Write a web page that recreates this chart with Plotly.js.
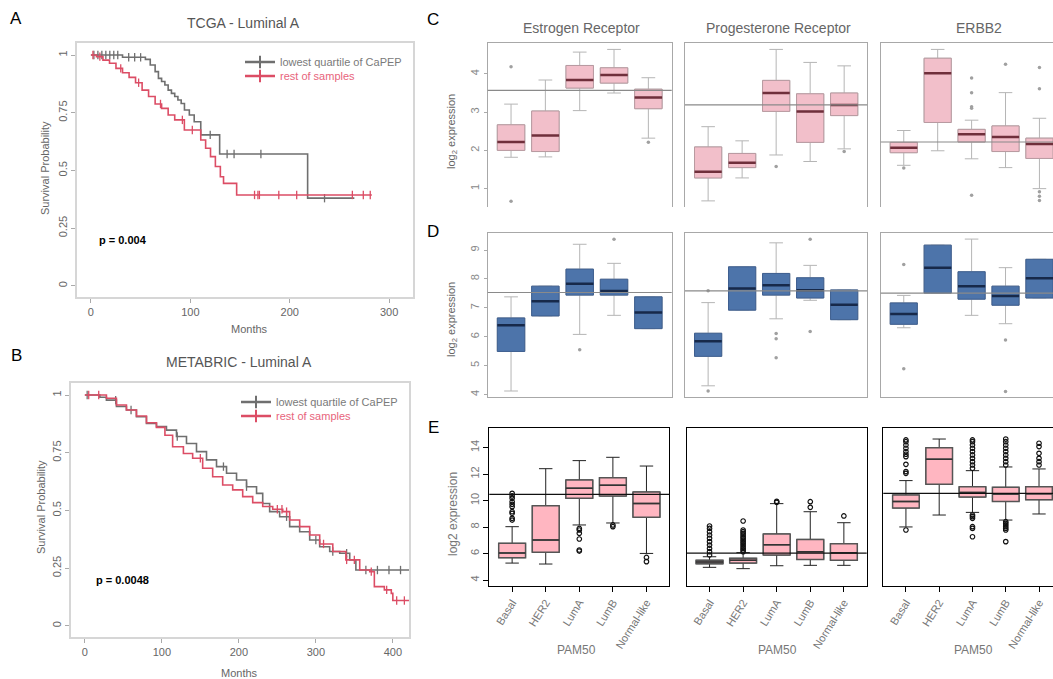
<!DOCTYPE html>
<html><head><meta charset="utf-8">
<script src="https://cdn.plot.ly/plotly-3.0.1.min.js"></script>
<style>html,body{margin:0;padding:0;background:#fff}#chart{width:1053px;height:679px}</style>
</head><body><div id="chart"></div>
<script>
// ---------------- DATA ----------------
// Panel A: TCGA - Luminal A (Kaplan-Meier, months / survival probability)
const tcgaLowT = [0, 31.8, 54.8, 59.7, 64.6, 67.9, 71.1, 74.4, 77.7, 81, 84.3, 87.5, 90.8, 94.1, 99, 103.9, 110.5, 129.5, 218, 265];
const tcgaLowS = [1, 0.99, 0.981, 0.957, 0.928, 0.899, 0.885, 0.87, 0.848, 0.834, 0.82, 0.805, 0.79, 0.762, 0.74, 0.711, 0.654, 0.571, 0.38, 0.38];
const tcgaLowCens = [3, 7, 11, 15, 19, 23, 27, 38, 44, 50, 120, 137, 144, 171, 235];
const tcgaRestT = [0, 5.6, 12.1, 18.7, 25.2, 31.8, 38.4, 44.9, 51.5, 58, 64.6, 71.1, 77.7, 84.3, 94, 110.5, 115.4, 120.3, 125.2, 130.2, 133.4, 146.6, 282.6];
const tcgaRestS = [1, 0.993, 0.978, 0.964, 0.942, 0.923, 0.903, 0.88, 0.848, 0.82, 0.788, 0.769, 0.74, 0.719, 0.675, 0.632, 0.596, 0.56, 0.517, 0.473, 0.444, 0.394, 0.394];
const tcgaRestCens = [2, 9, 30, 48, 70, 92, 102, 164.6, 168, 169.5, 189, 207, 263, 274, 281];

// Panel B: METABRIC - Luminal A
const metaLowT = [0, 19.5, 28, 41, 54, 67, 80, 93, 106, 119, 132, 145, 158, 171, 184, 197, 210, 223, 231, 240, 253, 266, 279, 292, 305, 318, 331, 344, 352, 421];
const metaLowS = [1, 0.99, 0.978, 0.95, 0.935, 0.906, 0.877, 0.863, 0.848, 0.82, 0.79, 0.755, 0.719, 0.69, 0.661, 0.632, 0.603, 0.574, 0.53, 0.495, 0.473, 0.43, 0.408, 0.372, 0.343, 0.322, 0.315, 0.286, 0.242, 0.242];
const metaLowCens = [3, 40, 60, 120, 180, 210, 262, 300, 322, 340, 365, 380, 395, 410];
const metaRestT = [0, 17, 28, 41, 54, 67, 80, 93, 104, 114, 128, 140, 153, 166, 179, 192, 205, 218, 231, 244, 257, 266, 279, 292, 305, 322, 339, 357, 370, 376, 389, 398, 400, 421];
const metaRestS = [1, 1, 0.986, 0.957, 0.935, 0.909, 0.88, 0.86, 0.826, 0.776, 0.747, 0.726, 0.683, 0.646, 0.61, 0.589, 0.56, 0.534, 0.517, 0.505, 0.495, 0.459, 0.43, 0.394, 0.355, 0.322, 0.286, 0.242, 0.235, 0.17, 0.156, 0.141, 0.11, 0.11];
const metaRestCens = [5, 18, 150, 250, 256, 262, 310, 340, 350, 372, 392, 405, 415];

const seriesNames = ['lowest quartile of CaPEP', 'rest of samples'];
const pam50 = ['Basal', 'HER2', 'LumA', 'LumB', 'Normal-like'];
const groupPos = [1, 2, 3, 4, 5];

// Panel C (pink): lower whisker, q1, median, q3, upper whisker, reference line, outliers per group
const cER_lo  = [1.82, 1.83, 3.04, 3.50, 2.32];
const cER_q1  = [2.00, 1.97, 3.63, 3.76, 3.09];
const cER_med = [2.22, 2.39, 3.84, 3.97, 3.38];
const cER_q3  = [2.67, 3.03, 4.22, 4.16, 3.60];
const cER_hi  = [3.21, 3.84, 4.57, 4.64, 3.90];
const cER_out = [[4.19, 0.67], [], [], [], [2.21]];
const cER_ref = 3.57;

const cPR_lo  = [0.68, 1.28, 1.88, 1.71, 2.04];
const cPR_q1  = [1.28, 1.55, 3.02, 2.21, 2.91];
const cPR_med = [1.44, 1.68, 3.50, 3.02, 3.19];
const cPR_q3  = [2.09, 1.92, 3.83, 3.48, 3.50];
const cPR_hi  = [2.62, 2.25, 4.64, 4.30, 4.21];
const cPR_out = [[], [], [1.58], [], [1.97]];
const cPR_ref = 3.19;

const cHER_lo  = [1.61, 1.99, 1.78, 1.55, 1.00];
const cHER_q1  = [1.94, 2.73, 2.22, 1.97, 1.79];
const cHER_med = [2.07, 4.02, 2.42, 2.35, 2.17];
const cHER_q3  = [2.21, 4.41, 2.55, 2.64, 2.32];
const cHER_hi  = [2.52, 4.64, 2.79, 3.51, 2.84];
const cHER_out = [[1.54], [], [3.89, 3.51, 3.14, 3.10, 0.83], [4.25], [4.17, 3.61, 0.92, 0.80, 0.69]];
const cHER_ref = 2.22;

// Panel D (blue)
const dER_lo  = [4.12, 6.72, 6.08, 6.74, 6.28];
const dER_q1  = [5.49, 6.72, 7.44, 7.44, 6.28];
const dER_med = [6.40, 7.23, 7.83, 7.58, 6.84];
const dER_q3  = [6.65, 7.75, 8.34, 7.99, 7.38];
const dER_hi  = [7.38, 7.75, 9.20, 8.54, 7.38];
const dER_out = [[], [], [5.55], [9.37], []];
const dER_ref = 7.53;

const dPR_lo  = [4.30, 6.92, 6.62, 7.26, 6.59];
const dPR_q1  = [5.32, 6.92, 7.44, 7.34, 6.59];
const dPR_med = [5.84, 7.67, 7.78, 7.61, 7.11];
const dPR_q3  = [6.12, 8.42, 8.19, 8.04, 7.62];
const dPR_hi  = [7.18, 8.42, 9.25, 8.47, 7.62];
const dPR_out = [[7.59, 4.12], [], [6.11, 5.93, 5.27], [6.18, 9.37], []];
const dPR_ref = 7.59;

const dHER_lo  = [6.31, 7.51, 6.74, 6.45, 7.34];
const dHER_q1  = [6.43, 7.51, 7.30, 7.09, 7.34];
const dHER_med = [6.79, 8.39, 7.75, 7.41, 8.02];
const dHER_q3  = [7.17, 9.17, 8.25, 7.75, 8.68];
const dHER_hi  = [7.43, 9.17, 9.38, 8.39, 8.68];
const dHER_out = [[8.50, 4.89], [], [], [5.89, 4.10], []];
const dHER_ref = 7.51;

// Panel E (pink, PAM50)
const e1_lo  = [5.28, 5.21, 8.16, 8.31, 6.01];
const e1_q1  = [5.69, 6.09, 10.17, 10.35, 8.74];
const e1_med = [6.04, 7.02, 10.93, 11.15, 9.79];
const e1_q3  = [6.77, 9.62, 11.56, 11.73, 10.65];
const e1_hi  = [8.03, 12.41, 13.02, 13.27, 12.61];
const e1_out = [[8.53, 8.66, 9.04, 9.16, 9.54, 9.72, 9.92, 10.17, 10.35, 10.55], [], [7.90, 7.78, 7.53, 7.10, 6.27, 6.19], [8.16, 8.03], [5.71, 5.39]];
const e1_ref = 10.47;

const e2_lo  = [4.96, 4.86, 5.08, 5.11, 5.11];
const e2_q1  = [5.23, 5.28, 5.89, 5.56, 5.49];
const e2_med = [5.36, 5.49, 6.67, 6.14, 6.07];
const e2_q3  = [5.49, 5.64, 7.48, 7.07, 6.75];
const e2_hi  = [5.76, 6.07, 9.77, 9.16, 8.33];
const e2_out = [[5.89, 6.14, 6.39, 6.64, 6.90, 7.15, 7.40, 7.65, 7.90, 8.08], [6.14, 6.27, 6.39, 6.52, 6.64, 6.77, 6.90, 7.02, 7.15, 7.27, 7.40, 7.53, 7.65, 7.78, 8.46], [9.87, 9.94], [9.49, 9.92], [8.84]];
const e2_ref = 6.04;

const e3_lo  = [8.01, 8.91, 9.11, 8.53, 8.99];
const e3_q1  = [9.44, 11.23, 10.27, 9.94, 10.07];
const e3_med = [9.94, 13.12, 10.62, 10.50, 10.52];
const e3_q3  = [10.42, 14.00, 11.05, 11.00, 11.05];
const e3_hi  = [11.51, 14.65, 12.26, 12.54, 12.39];
const e3_out = [[7.78, 12.06, 12.19, 12.74, 13.32, 13.50, 13.70, 13.95, 14.20, 14.45, 14.58], [], [8.91, 8.79, 8.66, 8.03, 7.90, 7.27, 12.44, 12.69, 12.94, 13.19, 13.45, 13.70, 13.95, 14.20, 14.45, 14.58], [12.69, 12.94, 13.19, 13.45, 13.70, 13.95, 14.20, 14.45, 14.65, 8.41, 8.28, 8.16, 8.03, 7.90, 7.78, 6.90], [12.69, 12.94, 13.19, 13.57, 14.08, 14.33]];
const e3_ref = 10.55;

// ---------------- BUILD ----------------
const W = 1053, H = 679;
const FONT = 'Liberation Sans, Arial, sans-serif';
const dx = (a, b) => [a / W, Math.min(1, b / W)];
const dy = (t, b) => [1 - b / H, 1 - t / H];
const px = v => v / W, py = v => 1 - v / H;

const GRAY = '#6f6f6f', RED = '#dc4d65';
const GRAY_TXT = '#7a7a7a', RED_TXT = '#e8647c';
const traces = [];
const shapes = [];
const annotations = [];

function survAt(T, S, t) { let s = S[0]; for (let i = 0; i < T.length; i++) if (T[i] <= t) s = S[i]; return s; }

function kmCurve(T, S, cens, color, xa, ya) {
  traces.push({type: 'scatter', mode: 'lines', x: T, y: S, xaxis: xa, yaxis: ya,
    line: {shape: 'hv', color: color, width: 1.6}, showlegend: false, hoverinfo: 'skip'});
  traces.push({type: 'scatter', mode: 'markers', x: cens, y: cens.map(t => survAt(T, S, t)), xaxis: xa, yaxis: ya,
    marker: {symbol: 'line-ns-open', size: 6, color: color, line: {color: color, width: 1.3}}, showlegend: false, hoverinfo: 'skip'});
}
function kmLegend(name, color, xa, ya, lg) {
  traces.push({type: 'scatter', mode: 'lines+markers', x: [null], y: [null], xaxis: xa, yaxis: ya, name: name, legend: lg,
    line: {color: color, width: 2.5}, marker: {symbol: 'line-ns-open', size: 9, color: color, line: {color: color, width: 2}}});
}

kmCurve(tcgaLowT, tcgaLowS, tcgaLowCens, GRAY, 'x', 'y');
kmCurve(tcgaRestT, tcgaRestS, tcgaRestCens, RED, 'x', 'y');
kmLegend(seriesNames[0], GRAY, 'x', 'y', 'legend');
kmLegend(seriesNames[1], RED, 'x', 'y', 'legend2');
kmCurve(metaLowT, metaLowS, metaLowCens, GRAY, 'x2', 'y2');
kmCurve(metaRestT, metaRestS, metaRestCens, RED, 'x2', 'y2');
kmLegend(seriesNames[0], GRAY, 'x2', 'y2', 'legend3');
kmLegend(seriesNames[1], RED, 'x2', 'y2', 'legend4');

function boxes(xa, ya, lo, q1, med, q3, hi, out, ref, st) {
  const common = {type: 'box', x: groupPos, xaxis: xa, yaxis: ya, width: 0.8, boxpoints: false, hoverinfo: 'skip', showlegend: false};
  traces.push(Object.assign({}, common, {q1: q1, median: med, q3: q3, lowerfence: lo, upperfence: hi,
    fillcolor: 'rgba(0,0,0,0)', line: {color: st.whisker, width: 1}, whiskerwidth: 0.5}));
  traces.push(Object.assign({}, common, {q1: q1, median: med, q3: q3, lowerfence: q1, upperfence: q3,
    fillcolor: st.fill, line: {color: st.border, width: st.bw}, whiskerwidth: 0}));
  traces.push(Object.assign({}, common, {q1: med, median: med, q3: med, lowerfence: med, upperfence: med,
    fillcolor: 'rgba(0,0,0,0)', line: {color: st.median, width: st.mw}, whiskerwidth: 0}));
  const ox = [], oy = [];
  out.forEach((arr, i) => arr.forEach(v => { ox.push(groupPos[i]); oy.push(v); }));
  traces.push({type: 'scatter', mode: 'markers', x: ox, y: oy, xaxis: xa, yaxis: ya, showlegend: false, hoverinfo: 'skip',
    marker: st.outMarker});
  shapes.push({type: 'line', xref: xa + ' domain', yref: ya, x0: 0, x1: 1, y0: ref, y1: ref,
    line: {color: st.refColor, width: st.refW}, layer: 'above'});
}

const stC = {whisker: '#b5b5b5', fill: '#f2bfca', border: '#b89aa0', bw: 1, median: '#6f2f3b', mw: 2.5,
  outMarker: {symbol: 'circle', size: 3.5, color: '#a0a0a0'}, refColor: '#8a8a8a', refW: 1.2};
const stD = {whisker: '#b5b5b5', fill: '#4d74aa', border: '#3e5f90', bw: 1, median: '#17294a', mw: 2.5,
  outMarker: {symbol: 'circle', size: 3.5, color: '#a0a0a0'}, refColor: '#8a8a8a', refW: 1.2};
const stE = {whisker: '#222', fill: '#ffb6c1', border: '#555', bw: 1.5, median: '#333', mw: 1.5,
  outMarker: {symbol: 'circle-open', size: 4.5, color: '#111', line: {width: 1.2, color: '#111'}}, refColor: '#111', refW: 1.2};

boxes('x3', 'y3', cER_lo, cER_q1, cER_med, cER_q3, cER_hi, cER_out, cER_ref, stC);
boxes('x4', 'y4', cPR_lo, cPR_q1, cPR_med, cPR_q3, cPR_hi, cPR_out, cPR_ref, stC);
boxes('x5', 'y5', cHER_lo, cHER_q1, cHER_med, cHER_q3, cHER_hi, cHER_out, cHER_ref, stC);
boxes('x6', 'y6', dER_lo, dER_q1, dER_med, dER_q3, dER_hi, dER_out, dER_ref, stD);
boxes('x7', 'y7', dPR_lo, dPR_q1, dPR_med, dPR_q3, dPR_hi, dPR_out, dPR_ref, stD);
boxes('x8', 'y8', dHER_lo, dHER_q1, dHER_med, dHER_q3, dHER_hi, dHER_out, dHER_ref, stD);
boxes('x9', 'y9', e1_lo, e1_q1, e1_med, e1_q3, e1_hi, e1_out, e1_ref, stE);
boxes('x10', 'y10', e2_lo, e2_q1, e2_med, e2_q3, e2_hi, e2_out, e2_ref, stE);
boxes('x11', 'y11', e3_lo, e3_q1, e3_med, e3_q3, e3_hi, e3_out, e3_ref, stE);

// ---------------- AXES ----------------
const base = {showgrid: false, zeroline: false, fixedrange: true};
const kmX = (dom, range, tv, anchor) => Object.assign({}, base, {domain: dom, range: range, tickvals: tv, anchor: anchor,
  ticks: 'outside', ticklen: 4, tickcolor: '#aaa', showline: true, mirror: true, linecolor: '#d6d6d6', linewidth: 2,
  tickfont: {size: 11, color: '#666', family: FONT}});
const kmY = (dom, anchor) => Object.assign({}, base, {domain: dom, range: [-0.048, 1.052], tickvals: [0, 0.25, 0.5, 0.75, 1], anchor: anchor,
  ticks: 'outside', ticklen: 4, tickcolor: '#aaa', tickangle: -90, showline: true, mirror: true, linecolor: '#d6d6d6', linewidth: 2,
  tickfont: {size: 11, color: '#666', family: FONT}});

const xC = (dom, range, anchor, side, mirror) => Object.assign({}, base, {domain: dom, range: range, anchor: anchor, side: side,
  showticklabels: false, ticks: '', showline: true, mirror: mirror, linecolor: '#a8a8a8', linewidth: 1});
const yC = (dom, range, anchor, tv, labels, mirror) => Object.assign({}, base, {domain: dom, range: range, anchor: anchor,
  tickvals: labels ? tv : [], showticklabels: labels, ticks: labels ? 'outside' : '', ticklen: 3, tickcolor: '#aaa', tickangle: -90,
  showline: true, mirror: mirror, linecolor: '#a8a8a8', linewidth: 1, tickfont: {size: 11, color: '#888', family: FONT}});
const xE = (dom, range, anchor) => Object.assign({}, base, {domain: dom, range: range, anchor: anchor,
  tickvals: groupPos, ticktext: pam50, tickangle: -58, ticks: 'outside', ticklen: 5, tickcolor: '#000',
  showline: true, mirror: true, linecolor: '#000', linewidth: 1, tickfont: {size: 11, color: '#777', family: FONT}});
const yE = (dom, anchor, labels, mirror) => Object.assign({}, base, {domain: dom, range: [3.55, 15.46], anchor: anchor,
  tickvals: labels ? [4, 6, 8, 10, 12, 14] : [], showticklabels: labels, ticks: labels ? 'outside' : '', ticklen: 5, tickcolor: '#000', tickangle: -90,
  showline: true, mirror: mirror, linecolor: '#000', linewidth: 1, tickfont: {size: 11, color: '#777', family: FONT}});

const colX1 = dx(487.7, 671.7), colX2 = dx(685, 867.3), colX3 = dx(880.7, 1053);
const colE1 = dx(489.3, 669.3), colE2 = dx(686.7, 866.7), colE3 = dx(883.3, 1053);
const rowC = dy(43.3, 207), rowD = dy(233.3, 396.5), rowE = dy(428.3, 586);
const full = [0.32, 5.68], cut = [0.32, 5.40], cutE = [0.32, 5.42];

const legendBase = (x, y, color) => ({x: px(x), y: py(y), xanchor: 'left', yanchor: 'middle', bgcolor: 'rgba(0,0,0,0)', borderwidth: 0,
  font: {size: 11, family: FONT, color: color}, tracegroupgap: 0});

const layout = {
  width: W, height: H, margin: {l: 0, r: 0, t: 0, b: 0}, paper_bgcolor: '#fff', plot_bgcolor: 'rgba(0,0,0,0)',
  font: {family: FONT}, boxmode: 'overlay', showlegend: true,
  xaxis: kmX(dx(77, 413), [-14, 324], [0, 100, 200, 300], 'y'),
  yaxis: kmY(dy(43, 297), 'x'),
  xaxis2: kmX(dx(71, 409), [-18, 421], [0, 100, 200, 300, 400], 'y2'),
  yaxis2: kmY(dy(383, 637), 'x2'),
  xaxis3: xC(colX1, full, 'y3', 'top', false), yaxis3: yC(rowC, [0.52, 4.80], 'x3', [1, 2, 3, 4], true, true),
  xaxis4: xC(colX2, full, 'y4', 'top', false), yaxis4: yC(rowC, [0.52, 4.80], 'x4', [], false, true),
  xaxis5: xC(colX3, cut, 'y5', 'top', false), yaxis5: yC(rowC, [0.52, 4.80], 'x5', [], false, false),
  xaxis6: xC(colX1, full, 'y6', 'bottom', true), yaxis6: yC(rowD, [3.93, 9.58], 'x6', [4, 5, 6, 7, 8, 9], true, true),
  xaxis7: xC(colX2, full, 'y7', 'bottom', true), yaxis7: yC(rowD, [3.93, 9.58], 'x7', [], false, true),
  xaxis8: xC(colX3, cut, 'y8', 'bottom', true), yaxis8: yC(rowD, [3.93, 9.58], 'x8', [], false, false),
  xaxis9: xE(colE1, full, 'y9'), yaxis9: yE(rowE, 'x9', true, true),
  xaxis10: xE(colE2, full, 'y10'), yaxis10: yE(rowE, 'x10', false, true),
  xaxis11: xE(colE3, cutE, 'y11'), yaxis11: yE(rowE, 'x11', false, false),
  legend: legendBase(240, 62, GRAY_TXT),
  legend2: legendBase(240, 76, RED_TXT),
  legend3: legendBase(236, 402, GRAY_TXT),
  legend4: legendBase(236, 416, RED_TXT),
  shapes: shapes,
  annotations: annotations
};

function note(text, x, y, opts) {
  annotations.push(Object.assign({text: text, x: px(x), y: py(y), xref: 'paper', yref: 'paper', showarrow: false,
    xanchor: 'center', yanchor: 'middle', font: {size: 11, color: '#666', family: FONT}}, opts || {}));
}
// panel letters
[['A', 16, 18], ['B', 16, 355], ['C', 433, 19], ['D', 433, 231], ['E', 433, 427]].forEach(l =>
  note(l[0], l[1], l[2], {font: {size: 17, color: '#000', family: FONT}}));
// titles
note('TCGA - Luminal A', 243, 23, {font: {size: 14, color: '#555', family: FONT}});
note('METABRIC - Luminal A', 239, 362, {font: {size: 14, color: '#555', family: FONT}});
note('Estrogen Receptor', 581, 28, {font: {size: 14, color: '#666', family: FONT}});
note('Progesterone Receptor', 778, 28, {font: {size: 14, color: '#666', family: FONT}});
note('ERBB2', 979, 28, {font: {size: 14, color: '#666', family: FONT}});
// axis titles
note('Survival Probability', 45, 168, {textangle: -90});
note('Survival Probability', 41, 507, {textangle: -90});
note('Months', 249, 329);
note('Months', 239, 673);
note('log<sub>2</sub> expression', 452, 132, {textangle: -90});
note('log<sub>2</sub> expression', 452, 320, {textangle: -90});
note('log2 expression', 453, 514, {textangle: -90, font: {size: 12, color: '#777', family: FONT}});
note('PAM50', 576, 650, {font: {size: 12, color: '#777', family: FONT}});
note('PAM50', 777, 650, {font: {size: 12, color: '#777', family: FONT}});
note('PAM50', 973, 650, {font: {size: 12, color: '#777', family: FONT}});
// p-values
note('<b>p = 0.004</b>', 97, 240, {xanchor: 'left', font: {size: 11, color: '#000', family: FONT}});
note('<b>p = 0.0048</b>', 94, 580, {xanchor: 'left', font: {size: 11, color: '#000', family: FONT}});

Plotly.newPlot('chart', traces, layout, {staticPlot: true, displayModeBar: false});
</script>
</body></html>
